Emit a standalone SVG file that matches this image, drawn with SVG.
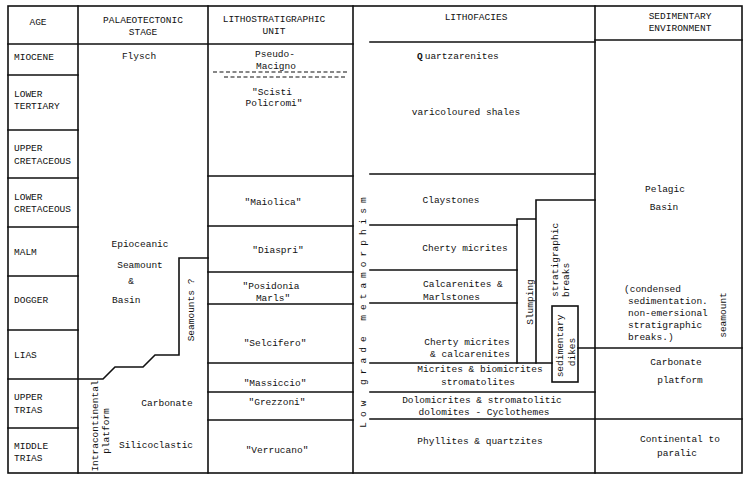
<svg xmlns="http://www.w3.org/2000/svg" width="750" height="485" viewBox="0 0 750 485">
<style>
.t{font-family:"Liberation Mono","DejaVu Sans Mono",monospace;font-size:9.5px;fill:#111}
.m{text-anchor:middle}
.l{stroke:#111;stroke-width:1.6;fill:none;stroke-linecap:square}
.d{stroke:#111;stroke-width:1.1;fill:none;stroke-dasharray:4 2.5}
</style>
<rect width="750" height="485" fill="#fff"/>
<g id="connectors">
<rect class="l" x="8" y="6" width="734" height="467"/>
<path class="l" d="M78 6V473M208 6V473M353 6V473M595 6V473"/>
<path class="l" d="M8 44H353M370 42H595M595 40H742"/>
<path class="l" d="M8 75H78M8 130H78M8 178H78M8 227H78M8 276H78M8 330H78M8 428H78"/>
<path class="l" d="M8 379H103L115 367H143L155 355H179V258H208"/>
<path class="d" d="M213 72H349M224 77H347"/>
<path class="l" d="M208 176H353M208 226H353M208 272H353M208 304H353M208 363H353M208 392H353M208 420H353"/>
<path class="l" d="M370 174H595M370 225H517M370 270H517M370 303H517M370 363H552M370 392H595M370 419H742"/>
<path class="l" d="M517 363V219H536M536 363V200H595"/>
<rect class="l" x="552" y="306" width="26" height="76"/>
<path class="l" d="M578 348H742"/>
</g>
<g id="age">
<text class="t m" x="38" y="25">AGE</text>
<text class="t" x="14" y="60">MIOCENE</text>
<text class="t" x="14" y="97">LOWER</text>
<text class="t" x="14" y="109">TERTIARY</text>
<text class="t" x="14" y="151">UPPER</text>
<text class="t" x="14" y="164">CRETACEOUS</text>
<text class="t" x="14" y="200">LOWER</text>
<text class="t" x="14" y="212">CRETACEOUS</text>
<text class="t" x="14" y="255">MALM</text>
<text class="t" x="14" y="303">DOGGER</text>
<text class="t" x="14" y="358">LIAS</text>
<text class="t" x="14" y="400">UPPER</text>
<text class="t" x="14" y="413">TRIAS</text>
<text class="t" x="14" y="449">MIDDLE</text>
<text class="t" x="14" y="461">TRIAS</text>
</g>
<g id="palaeotectonic">
<text class="t m" x="143" y="23">PALAEOTECTONIC</text>
<text class="t m" x="143" y="35">STAGE</text>
<text class="t m" x="139" y="59">Flysch</text>
<text class="t m" x="140" y="247">Epioceanic</text>
<text class="t m" x="140" y="268">Seamount</text>
<text class="t m" x="131" y="284">&amp;</text>
<text class="t" x="112" y="303">Basin</text>
<text class="t m" transform="translate(194,310) rotate(-90)">Seamounts ?</text>
<text class="t m" transform="translate(98,426) rotate(-90)">Intracontinental</text>
<text class="t m" transform="translate(109,431) rotate(-90)">platform</text>
<text class="t m" x="167" y="406">Carbonate</text>
<text class="t m" x="156" y="448">Silicoclastic</text>
</g>
<g id="lithostratigraphic">
<text class="t m" x="274" y="22">LITHOSTRATIGRAPHIC</text>
<text class="t m" x="274" y="34">UNIT</text>
<text class="t m" x="275" y="57">Pseudo-</text>
<text class="t m" x="276" y="69">Macigno</text>
<text class="t m" x="272" y="95">"Scisti</text>
<text class="t m" x="274" y="106">Policromi"</text>
<text class="t m" x="273" y="205">"Maiolica"</text>
<text class="t m" x="278" y="253">"Diaspri"</text>
<text class="t m" x="271" y="289">"Posidonia</text>
<text class="t m" x="273" y="301">Marls"</text>
<text class="t m" x="275" y="346">"Selcifero"</text>
<text class="t m" x="275" y="386">"Massiccio"</text>
<text class="t m" x="277" y="405">"Grezzoni"</text>
<text class="t m" x="277" y="453">"Verrucano"</text>
</g>
<g id="lithofacies">
<text class="t m" x="476" y="20">LITHOFACIES</text>
<text class="t m" transform="translate(366,310) rotate(-90)" letter-spacing="5">Low grade metamorphism</text>
<text class="t" x="417" y="59"><tspan font-weight="bold">Q</tspan><tspan dx="2">uartzarenites</tspan></text>
<text class="t m" x="466" y="115">varicoloured shales</text>
<text class="t m" x="451" y="203">Claystones</text>
<text class="t m" x="465" y="251">Cherty micrites</text>
<text class="t" x="423" y="287">Calcarenites &amp;</text>
<text class="t" x="423" y="300">Marlstones</text>
<text class="t m" x="467" y="345">Cherty micrites</text>
<text class="t m" x="470" y="357">&amp; calcarenites</text>
<text class="t m" x="480" y="372">Micrites &amp; biomicrites</text>
<text class="t m" x="478" y="385">stromatolites</text>
<text class="t m" x="482" y="403">Dolomicrites &amp; stromatolitic</text>
<text class="t m" x="484" y="415">dolomites - Cyclothemes</text>
<text class="t m" x="480" y="444">Phyllites &amp; quartzites</text>
<text class="t m" transform="translate(533,302) rotate(-90)">Slumping</text>
<text class="t" transform="translate(558,297) rotate(-90)">stratigraphic</text>
<text class="t" transform="translate(569,297) rotate(-90)">breaks</text>
<text class="t m" transform="translate(563,346) rotate(-90)">sedimentary</text>
<text class="t m" transform="translate(575,352) rotate(-90)">dikes</text>
</g>
<g id="environment">
<text class="t m" x="680" y="19">SEDIMENTARY</text>
<text class="t m" x="680" y="31">ENVIRONMENT</text>
<text class="t m" x="665" y="192">Pelagic</text>
<text class="t m" x="664" y="210">Basin</text>
<text class="t" x="624" y="292">(condensed</text>
<text class="t" x="628" y="304">sedimentation.</text>
<text class="t" x="628" y="316">non-emersional</text>
<text class="t" x="628" y="328">stratigraphic</text>
<text class="t" x="628" y="340">breaks.)</text>
<text class="t m" transform="translate(726,315) rotate(-90)" font-size="8.5">seamount</text>
<text class="t m" x="676" y="365">Carbonate</text>
<text class="t m" x="680" y="383">platform</text>
<text class="t m" x="680" y="442">Continental to</text>
<text class="t m" x="677" y="456">paralic</text>
</g>
</svg>
